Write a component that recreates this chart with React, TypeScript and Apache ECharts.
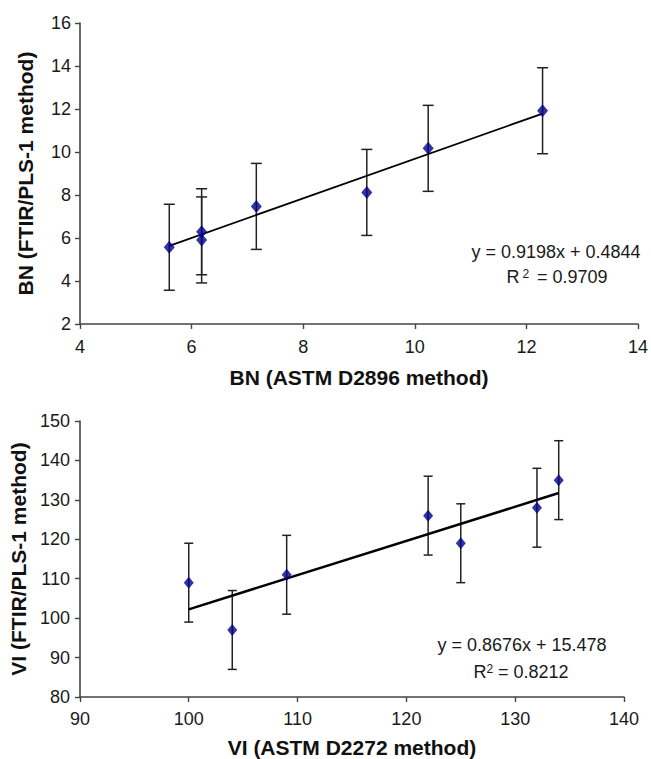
import React, { useEffect, useRef } from "react";
import * as echarts from "echarts";

// Top chart: BN
const bnAstm = [5.6, 6.18, 6.18, 7.16, 9.14, 10.24, 12.29];
const bnFtir = [5.57, 6.29, 5.91, 7.47, 8.12, 10.17, 11.92];
const bnErr = [2, 2, 2, 2, 2, 2, 2];
const bnFit = [0.9198, 0.4844]; // slope, intercept
const bnEq = "y = 0.9198x + 0.4844";
const bnR2 = "0.9709";

// Bottom chart: VI
const viAstm = [100, 104, 109, 122, 125, 132, 134];
const viFtir = [109, 97, 111, 126, 119, 128, 135];
const viErr = [10, 10, 10, 10, 10, 10, 10];
const viFit = [0.8676, 15.478];
const viEq = "y = 0.8676x + 15.478";
const viR2 = "0.8212";

const FONT = "'Liberation Sans', Arial, Helvetica, sans-serif";
const INK = "#1a1a1a";
const MARK = "#00008B";
const AXIS = "#444";

function errData(xs: number[], ys: number[], es: number[]) {
  return xs.map((x, i) => [x, ys[i] - es[i], ys[i] + es[i]]);
}
function fitData(xs: number[], fit: number[]) {
  const lo = Math.min(...xs);
  const hi = Math.max(...xs);
  return [
    [lo, fit[0] * lo + fit[1]],
    [hi, fit[0] * hi + fit[1]],
  ];
}

function errRender(hw: number) {
  return (params: any, api: any) => {
    const x = api.value(0);
    const lo = api.coord([x, api.value(1)]);
    const hi = api.coord([x, api.value(2)]);
    const st = { stroke: "#222", lineWidth: 1.5 };
    return {
      type: "group",
      children: [
        { type: "line", shape: { x1: lo[0], y1: lo[1], x2: hi[0], y2: hi[1] }, style: st },
        { type: "line", shape: { x1: lo[0] - hw, y1: lo[1], x2: lo[0] + hw, y2: lo[1] }, style: st },
        { type: "line", shape: { x1: hi[0] - hw, y1: hi[1], x2: hi[0] + hw, y2: hi[1] }, style: st },
      ],
    };
  };
}

function axisCommon() {
  return {
    type: "value" as const,
    splitLine: { show: false },
    axisLine: { show: true, onZero: false, lineStyle: { color: AXIS, width: 1.6 } },
    axisTick: { show: true, length: 5, lineStyle: { color: AXIS, width: 1.4 } },
    axisLabel: { fontSize: 18, color: INK, fontFamily: FONT },
    nameLocation: "middle" as const,
    nameTextStyle: { fontSize: 21, fontWeight: "bold" as const, color: "#111", fontFamily: FONT },
  };
}

export default function App() {
  const ref = useRef<HTMLDivElement>(null);
  useEffect(() => {
    if (!ref.current) return;
    const chart = echarts.init(ref.current, null, { renderer: "svg" });
    const ac = axisCommon();
    const option: any = {
      animation: false,
      backgroundColor: "#ffffff",
      grid: [
        { left: 80, top: 23, width: 559, height: 301 },
        { left: 79, top: 421, width: 545, height: 278 },
      ],
      xAxis: [
        {
          ...ac, gridIndex: 0, min: 4, max: 14, interval: 2,
          axisLabel: { ...ac.axisLabel, margin: 14 },
          name: "BN (ASTM D2896 method)", nameGap: 43,
        },
        {
          ...ac, gridIndex: 1, min: 90, max: 140, interval: 10,
          axisLabel: { ...ac.axisLabel, margin: 13 },
          name: "VI (ASTM D2272 method)", nameGap: 40,
        },
      ],
      yAxis: [
        {
          ...ac, gridIndex: 0, min: 2, max: 16, interval: 2,
          axisLabel: { ...ac.axisLabel, margin: 9 },
          name: "BN (FTIR/PLS-1 method)", nameGap: 44,
        },
        {
          ...ac, gridIndex: 1, min: 80, max: 150, interval: 10,
          axisLabel: { ...ac.axisLabel, margin: 10 },
          name: "VI (FTIR/PLS-1 method)", nameGap: 48,
        },
      ],
      series: [
        {
          type: "custom", xAxisIndex: 0, yAxisIndex: 0, z: 2,
          renderItem: errRender(5.5), encode: { x: 0, y: [1, 2] },
          data: errData(bnAstm, bnFtir, bnErr),
        },
        {
          type: "line", xAxisIndex: 0, yAxisIndex: 0, z: 3, symbol: "none",
          lineStyle: { color: "#000", width: 1.8 },
          data: fitData(bnAstm, bnFit),
        },
        {
          type: "scatter", xAxisIndex: 0, yAxisIndex: 0, z: 4,
          symbol: "diamond", symbolSize: [11, 13],
          itemStyle: { color: MARK },
          data: bnAstm.map((x, i) => [x, bnFtir[i]]),
        },
        {
          type: "custom", xAxisIndex: 1, yAxisIndex: 1, z: 2,
          renderItem: errRender(4.5), encode: { x: 0, y: [1, 2] },
          data: errData(viAstm, viFtir, viErr),
        },
        {
          type: "line", xAxisIndex: 1, yAxisIndex: 1, z: 3, symbol: "none",
          lineStyle: { color: "#000", width: 2.5 },
          data: fitData(viAstm, viFit),
        },
        {
          type: "scatter", xAxisIndex: 1, yAxisIndex: 1, z: 4,
          symbol: "diamond", symbolSize: [10, 12],
          itemStyle: { color: MARK },
          data: viAstm.map((x, i) => [x, viFtir[i]]),
        },
      ],
      graphic: [
        {
          type: "text", x: 556, y: 252,
          style: { text: bnEq, fontSize: 18, fontFamily: FONT, fill: INK, align: "center", verticalAlign: "middle" },
        },
        {
          type: "text", x: 557, y: 277,
          style: {
            text: "R{sup|2} = " + bnR2, fontSize: 18, fontFamily: FONT, fill: INK,
            align: "center", verticalAlign: "middle",
            rich: { sup: { fontSize: 12, fontFamily: FONT, fill: INK, verticalAlign: "top", lineHeight: 18, padding: [0, 3, 0, 3] } },
          },
        },
        {
          type: "text", x: 522, y: 645,
          style: { text: viEq, fontSize: 18, fontFamily: FONT, fill: INK, align: "center", verticalAlign: "middle" },
        },
        {
          type: "text", x: 521, y: 672,
          style: {
            text: "R{sup|2} = " + viR2, fontSize: 18, fontFamily: FONT, fill: INK,
            align: "center", verticalAlign: "middle",
            rich: { sup: { fontSize: 12, fontFamily: FONT, fill: INK, verticalAlign: "top", lineHeight: 18 } },
          },
        },
      ],
    };
    chart.setOption(option);
    return () => chart.dispose();
  }, []);
  return (
    <div
      ref={ref}
      style={{ position: "fixed", left: 0, top: 0, width: 651, height: 759, background: "#fff" }}
    />
  );
}
